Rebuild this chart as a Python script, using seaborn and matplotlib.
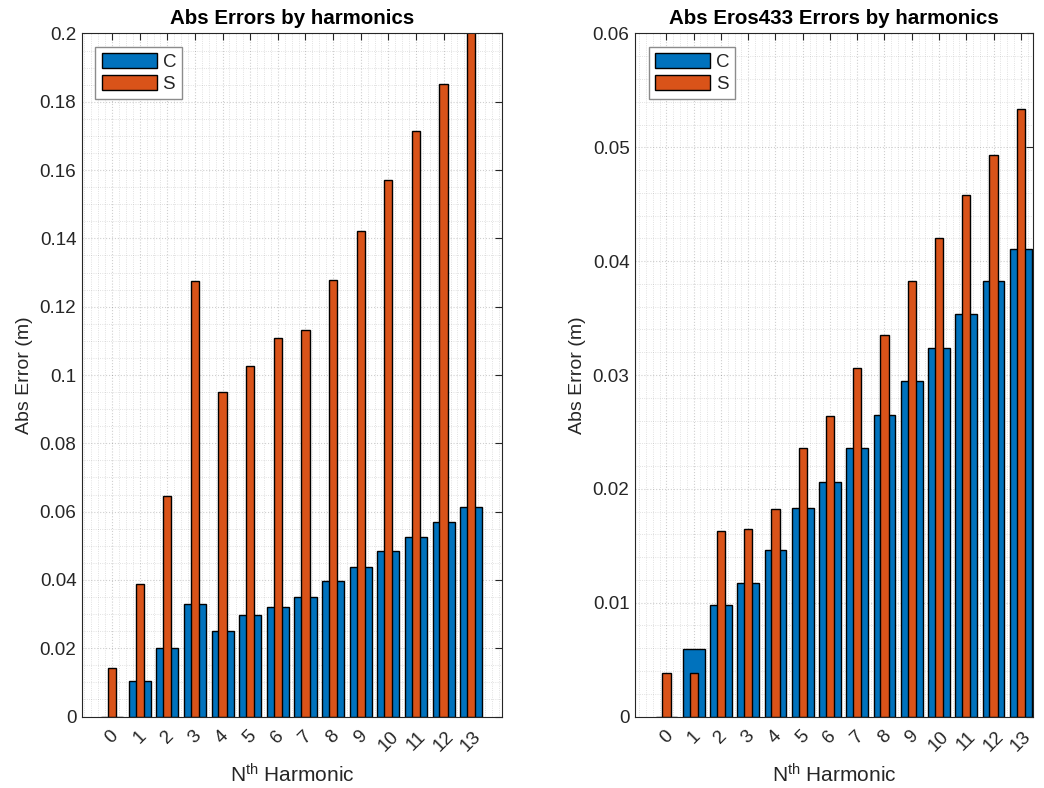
import numpy as np
import matplotlib
matplotlib.use("Agg")
import matplotlib.pyplot as plt
from matplotlib.ticker import MultipleLocator, FormatStrFormatter
import seaborn as sns

# Harmonic index shared by both panels
harmonics = list(range(14))

# Absolute errors (m), all bodies
abs_c = [0.0, 0.0105, 0.0200, 0.0330, 0.0251, 0.0297, 0.0321, 0.0350,
         0.0396, 0.0438, 0.0484, 0.0527, 0.0569, 0.0614]
abs_s = [0.0141, 0.0389, 0.0646, 0.1275, 0.0949, 0.1026, 0.1108, 0.1132,
         0.1278, 0.1422, 0.1571, 0.1714, 0.1852, 0.2005]

# Absolute errors (m), Eros433
eros_c = [0.0, 0.0059, 0.0098, 0.0117, 0.0146, 0.0183, 0.0206, 0.0236,
          0.0265, 0.0295, 0.0324, 0.0354, 0.0383, 0.0411]
eros_s = [0.0038, 0.0038, 0.0163, 0.0165, 0.0182, 0.0236, 0.0264, 0.0306,
          0.0335, 0.0383, 0.0420, 0.0458, 0.0493, 0.0534]

sns.set_style("white")
plt.rcParams["font.family"] = ["Liberation Sans", "DejaVu Sans"]
plt.rcParams["mathtext.default"] = "regular"

BLUE = "#0072BD"
ORANGE = "#D95319"
AX_COLOR = "#262626"

fig = plt.figure(figsize=(10.44, 7.88), dpi=100)
ax1 = fig.add_axes([0.0785, 0.0907, 0.4025, 0.8668])
ax2 = fig.add_axes([0.6083, 0.0907, 0.3812, 0.8668])


def draw_panel(ax, c_vals, s_vals, title, ymax, ystep, yminor, xlim):
    sns.barplot(x=harmonics, y=c_vals, ax=ax, color=BLUE, saturation=1,
                width=0.8, edgecolor="black", linewidth=1.0, label="C",
                errorbar=None)
    sns.barplot(x=harmonics, y=s_vals, ax=ax, color=ORANGE, saturation=1,
                width=0.3, edgecolor="black", linewidth=1.0, label="S",
                errorbar=None)
    ax.set_xlim(*xlim)
    ax.set_ylim(0, ymax)
    ax.set_xticks(range(len(harmonics)))
    ax.set_xticklabels([str(h) for h in harmonics], rotation=45,
                       ha="center", va="top")
    ax.yaxis.set_major_locator(MultipleLocator(ystep))
    ax.yaxis.set_minor_locator(MultipleLocator(yminor))
    ax.xaxis.set_minor_locator(MultipleLocator(0.25))
    ax.yaxis.set_major_formatter(FormatStrFormatter("%g"))

    ax.set_axisbelow(True)
    ax.grid(which="major", color=AX_COLOR, alpha=0.22, linestyle=":",
            linewidth=0.8)
    ax.grid(which="minor", color=AX_COLOR, alpha=0.18, linestyle=":",
            linewidth=0.6)

    ax.tick_params(which="major", direction="in", length=5, width=0.8,
                   color=AX_COLOR, top=True, right=True, labelsize=13.6,
                   labelcolor=AX_COLOR, pad=4)
    ax.tick_params(axis="x", which="major", pad=8)
    ax.tick_params(which="minor", length=0)
    for sp in ax.spines.values():
        sp.set_color(AX_COLOR)
        sp.set_linewidth(0.8)
        sp.set_visible(True)

    ax.set_title(title, fontsize=14.8, fontweight="bold", color="black",
                 pad=7)
    ax.set_ylabel("Abs Error (m)", fontsize=14, color=AX_COLOR, labelpad=5)
    ax.set_xlabel("N$^{th}$ Harmonic", fontsize=15, color=AX_COLOR,
                  labelpad=6)

    leg = ax.legend(loc="upper left", fontsize=13.5, frameon=True,
                    fancybox=False, framealpha=1, handlelength=2.95,
                    handleheight=0.85, handletextpad=0.3, labelspacing=0.22,
                    borderpad=0.33, borderaxespad=0.72)
    leg.get_frame().set_edgecolor("#8c8c8c")
    leg.get_frame().set_linewidth(1.0)


draw_panel(ax1, abs_c, abs_s, "Abs Errors by harmonics", 0.2, 0.02, 0.005,
           (-1.09, 14.12))
draw_panel(ax2, eros_c, eros_s, "Abs Eros433 Errors by harmonics", 0.06,
           0.01, 0.002, (-1.15, 13.45))

fig.savefig("out.png", dpi=100)
